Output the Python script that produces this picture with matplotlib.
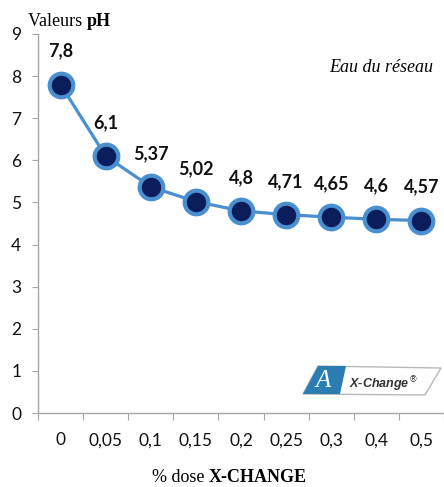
import numpy as np
import matplotlib.pyplot as plt
from matplotlib.patches import Polygon
from matplotlib.transforms import offset_copy

doses = ['0', '0,05', '0,1', '0,15', '0,2', '0,25', '0,3', '0,4', '0,5']
ph_values = [7.8, 6.1, 5.37, 5.02, 4.8, 4.71, 4.65, 4.6, 4.57]
ph_labels = ['7,8', '6,1', '5,37', '5,02', '4,8', '4,71', '4,65', '4,6', '4,57']

W, H = 444, 487
fig = plt.figure(figsize=(W / 100, H / 100), dpi=100)
ax = fig.add_axes([38 / W, 1 - 413 / H, 406 / W, 379 / H])

serif = ['Liberation Serif', 'DejaVu Serif']
line_col = '#4a8fd0'
x = np.arange(len(doses))
ax.plot(x, ph_values, color=line_col, lw=2.3, marker='o', ms=17,
        mfc='#0b1e5b', mec=line_col, mew=3, zorder=3, clip_on=False)

for xi, yi, lab in zip(x, ph_values, ph_labels):
    ax.annotate(lab, (xi, yi), xytext=(0, 24), textcoords='offset points',
                ha='center', va='center', fontsize=13, fontweight='bold',
                family='Lato', color='#111111')

ax.set_xlim(-0.5, len(doses) - 0.5)
ax.set_ylim(0, 9)
ax.set_yticks(range(10))
ax.set_xticks(np.arange(len(doses) + 1) - 0.5, minor=False)
ax.set_xticklabels([])
ax.set_xticks(x, minor=True)
ax.set_xticklabels(doses, minor=True)

for s in ['top', 'right']:
    ax.spines[s].set_visible(False)
for s in ['left', 'bottom']:
    ax.spines[s].set_color('#a6a6a6')
    ax.spines[s].set_linewidth(1)

ax.tick_params(axis='y', which='major', direction='out', length=4, color='#a6a6a6',
               labelsize=12.5, pad=8)
ax.tick_params(axis='x', which='major', direction='out', length=5, color='#a6a6a6')
ax.tick_params(axis='x', which='minor', length=0, labelsize=12.5, pad=14)
for lab in ax.get_yticklabels() + ax.get_xticklabels(minor=True):
    lab.set_family('Lato')
    lab.set_color('#111111')


def two_part(x0, y0, a, b, size, style='normal'):
    # regular text followed by bold text, left anchored in pixel coords
    t1 = fig.text(x0 / W, 1 - y0 / H, a, family=serif, fontsize=size,
                  va='center', ha='left', style=style)
    fig.canvas.draw()
    w = t1.get_window_extent().width
    tr = offset_copy(fig.transFigure, fig=fig, x=w, y=0, units='dots')
    fig.text(x0 / W, 1 - y0 / H, b, family=serif, fontsize=size, fontweight='bold',
             va='center', ha='left', transform=tr)


two_part(28, 22, 'Valeurs ', 'pH', 13)
two_part(152, 478, '% dose ', 'X-CHANGE', 13)
fig.text(433 / W, 1 - 67 / H, 'Eau du réseau', family=serif,
         fontsize=13, style='italic', ha='right', va='center')


# logo
def px(pts):
    return [(a / W, 1 - b / H) for a, b in pts]


fig.patches.append(Polygon(px([(318, 366), (441, 368), (425, 395), (303, 394)]),
                           closed=True, transform=fig.transFigure,
                           facecolor='white', edgecolor='#b8b8b8', lw=1, zorder=5))
fig.patches.append(Polygon(px([(318, 366), (346, 366), (340, 394), (303, 394)]),
                           closed=True, transform=fig.transFigure,
                           facecolor='#2a7db0', edgecolor='none', zorder=6))
fig.text(323 / W, 1 - 381 / H, 'A', family=serif, fontsize=18,
         style='italic', color='white', ha='center', va='center', zorder=7)
fig.text(383 / W, 1 - 384 / H, 'X-Change$^{®}$', family='Liberation Sans', fontsize=9,
         style='italic', fontweight='bold', color='#333333', ha='center', va='center',
         zorder=7)

fig.savefig('out.png', dpi=100)
